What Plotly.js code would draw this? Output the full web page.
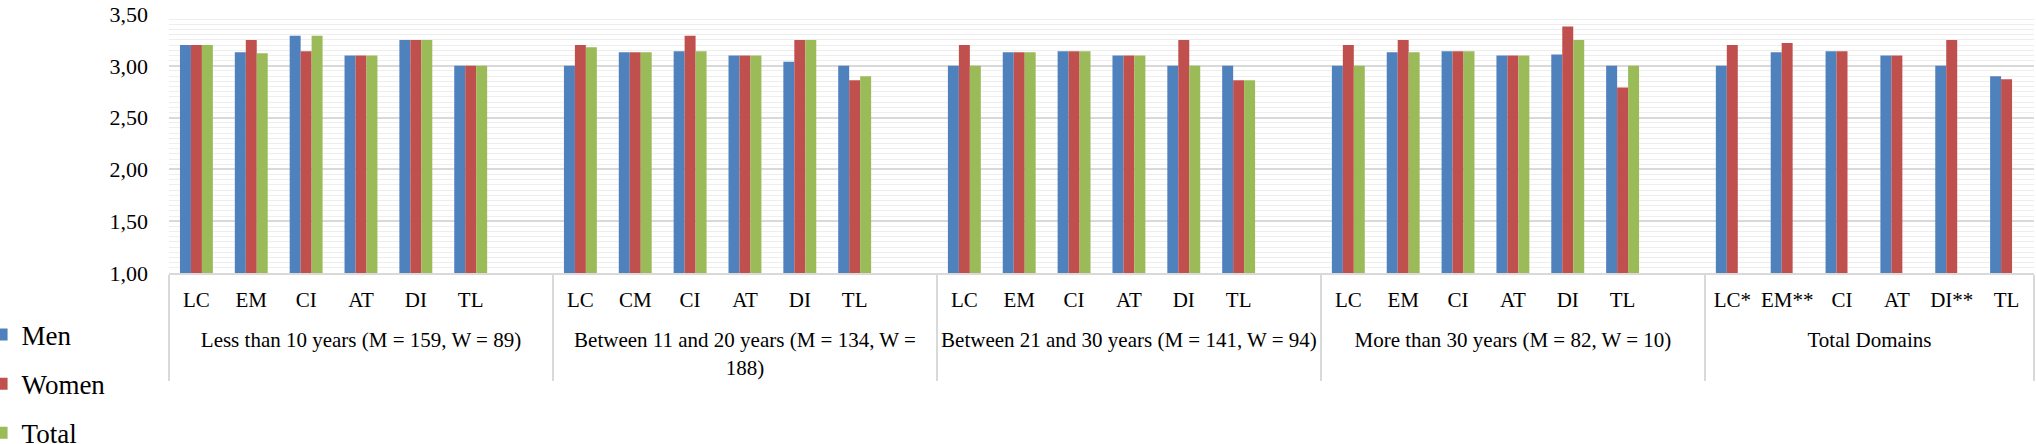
<!DOCTYPE html>
<html>
<head>
<meta charset="utf-8">
<script src="https://cdn.plot.ly/plotly-3.0.1.min.js"></script>
<style>html,body{margin:0;padding:0;background:#fff;}#chart{width:2036px;height:444px;}</style>
</head>
<body>
<div id="chart"></div>
<script>
// ---- data ----
var groups = [
  "Less than 10 years (M = 159, W = 89)",
  "Between 11 and 20 years (M = 134, W =<br>188)",
  "Between 21 and 30 years (M = 141, W = 94)",
  "More than 30 years (M = 82, W = 10)",
  "Total Domains"
];
var subLabels = [
  ["LC", "EM", "CI", "AT", "DI", "TL"],
  ["LC", "CM", "CI", "AT", "DI", "TL"],
  ["LC", "EM", "CI", "AT", "DI", "TL"],
  ["LC", "EM", "CI", "AT", "DI", "TL"],
  ["LC*", "EM**", "CI", "AT", "DI**", "TL"]
];
var menValues = [
  [3.20, 3.13, 3.29, 3.10, 3.25, 3.00],
  [3.00, 3.13, 3.14, 3.10, 3.04, 3.00],
  [3.00, 3.13, 3.14, 3.10, 3.00, 3.00],
  [3.00, 3.13, 3.14, 3.10, 3.11, 3.00],
  [3.00, 3.13, 3.14, 3.10, 3.00, 2.90]
];
var womenValues = [
  [3.20, 3.25, 3.14, 3.10, 3.25, 3.00],
  [3.20, 3.13, 3.29, 3.10, 3.25, 2.86],
  [3.20, 3.13, 3.14, 3.10, 3.25, 2.86],
  [3.20, 3.25, 3.14, 3.10, 3.38, 2.79],
  [3.20, 3.22, 3.14, 3.10, 3.25, 2.87]
];
var totalValues = [
  [3.20, 3.12, 3.29, 3.10, 3.25, 3.00],
  [3.18, 3.13, 3.14, 3.10, 3.25, 2.90],
  [3.00, 3.13, 3.14, 3.10, 3.00, 2.86],
  [3.00, 3.13, 3.14, 3.10, 3.25, 3.00],
  [null, null, null, null, null, null]
];
var seriesNames = ["Men", "Women", "Total"];
var seriesColors = ["#4F81BD", "#C0504D", "#9BBB59"];
var yTickVals = [1.00, 1.50, 2.00, 2.50, 3.00, 3.50];
var spacerLabel = " ";

// invisible padding around each domain label so the second label row sits lower
var pad = "<span style='font-size:40px'>\u00a0</span>";
function padLabel(t) { return pad + t + pad; }

// ---- build multicategory x (slot-major so Plotly keeps the sub-label order),
//      with an empty spacer slot after each age group ----
var xGroup = [], xSub = [];
var flat = [[], [], []];
var sources = [menValues, womenValues, totalValues];
for (var j = 0; j < 7; j++) {
  for (var g = 0; g < groups.length; g++) {
    if (j < subLabels[g].length) {
      xGroup.push(groups[g]); xSub.push(padLabel(subLabels[g][j]));
      for (var s = 0; s < 3; s++) flat[s].push(sources[s][g][j]);
    } else if (g < groups.length - 1) {
      xGroup.push(groups[g]); xSub.push(spacerLabel);
      for (var s2 = 0; s2 < 3; s2++) flat[s2].push(null);
    }
  }
}

var traces = seriesNames.map(function (name, i) {
  return {
    type: "bar",
    name: name,
    x: [xGroup, xSub],
    y: flat[i],
    marker: {color: seriesColors[i]},
    legendgroup: name,
    hoverinfo: "y"
  };
});

var serif = "Liberation Serif, Times New Roman, serif";
var layout = {
  width: 2036, height: 444,
  margin: {l: 169, r: 2, t: 14, b: 171, autoexpand: false},
  paper_bgcolor: "#ffffff", plot_bgcolor: "#ffffff",
  separators: ",.",
  barmode: "group", bargap: 0.4, bargroupgap: 0,
  font: {family: serif, color: "#000000", size: 21},
  showlegend: true,
  legend: {
    x: -0.1005, xanchor: "left", y: -0.145, yanchor: "top",
    orientation: "v", traceorder: "grouped", tracegroupgap: 11,
    font: {family: serif, size: 27, color: "#000000"},
    bgcolor: "rgba(0,0,0,0)", borderwidth: 0
  },
  xaxis: {
    type: "multicategory",
    showdividers: true, dividercolor: "#d9d9d9", dividerwidth: 2,
    showline: true, linecolor: "#d9d9d9", linewidth: 2,
    showgrid: false, zeroline: false, ticks: "",
    tickangle: 0, ticklabelstandoff: 7,
    tickfont: {family: serif, size: 21, color: "#000000"}
  },
  yaxis: {
    range: [1, 3.5], tickvals: yTickVals, tickformat: ".2f",
    showgrid: true, gridcolor: "#d9d9d9", gridwidth: 2,
    minor: {dtick: 0.05, showgrid: true, gridcolor: "#eeeeee", gridwidth: 1, ticks: ""},
    zeroline: false, showline: false, ticks: "",
    ticklabelstandoff: 20,
    tickfont: {family: serif, size: 22, color: "#000000"}
  }
};

Plotly.newPlot("chart", traces, layout, {displayModeBar: false, staticPlot: true});
</script>
</body>
</html>
